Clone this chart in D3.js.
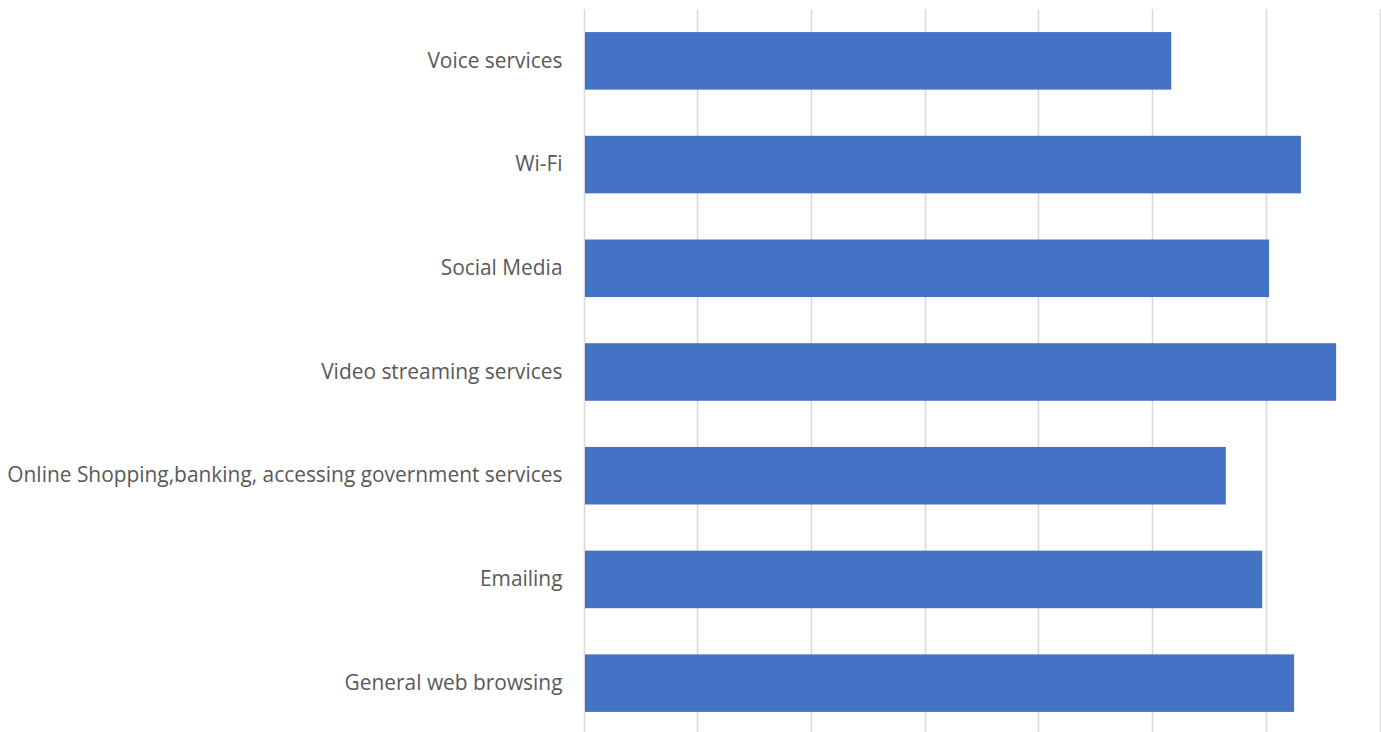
<!DOCTYPE html>
<html>
<head>
<meta charset="utf-8">
<script src="https://cdn.jsdelivr.net/npm/d3@7/dist/d3.min.js"></script>
<style>
  html, body { margin: 0; padding: 0; background: #fff; }
  svg { display: block; }
</style>
</head>
<body>
<svg id="chart" width="1381" height="732"></svg>
<script>
// Service categories, top to bottom
const categories = [
  "Voice services",
  "Wi-Fi",
  "Social Media",
  "Video streaming services",
  "Online Shopping,banking, accessing government services",
  "Emailing",
  "General web browsing"
];
// One value per category
const values = [51.6, 63.0, 60.2, 66.1, 56.4, 59.6, 62.4];
// Gridline positions on the value axis
const gridTicks = [0, 10, 20, 30, 40, 50, 60, 70];

const data = categories.map((c, i) => ({ category: c, value: values[i] }));

const width = 1381, height = 732;
const margin = { top: 9, right: 0.5, bottom: -3, left: 584.5 };

const svg = d3.select("#chart");

const x = d3.scaleLinear()
  .domain([0, 70])
  .range([margin.left, width - margin.right]);

const y = d3.scaleBand()
  .domain(categories)
  .range([margin.top, height - margin.bottom])
  .paddingInner(0.445)
  .paddingOuter(0.2225);

// Vertical gridlines
svg.append("g")
  .selectAll("line")
  .data(gridTicks)
  .join("line")
  .attr("x1", d => Math.round(x(d)) - 0.5)
  .attr("x2", d => Math.round(x(d)) - 0.5)
  .attr("y1", margin.top)
  .attr("y2", height - margin.bottom)
  .attr("stroke", "#d9d9d9")
  .attr("stroke-width", 1.5);

// Bars
svg.append("g")
  .selectAll("rect")
  .data(data)
  .join("rect")
  .attr("x", x(0) + 0.5)
  .attr("y", d => y(d.category))
  .attr("width", d => x(d.value) - x(0) - 0.5)
  .attr("height", y.bandwidth())
  .attr("fill", "#4472c4");

// Category labels
const yAxis = d3.axisLeft(y).tickSize(0).tickPadding(22);
const gy = svg.append("g")
  .attr("transform", `translate(${margin.left},0)`)
  .call(yAxis);
gy.select(".domain").remove();
gy.selectAll("text")
  .attr("fill", "#595959")
  .style("font-family", "'Open Sans', sans-serif")
  .style("font-size", "20.9px");
</script>
</body>
</html>
